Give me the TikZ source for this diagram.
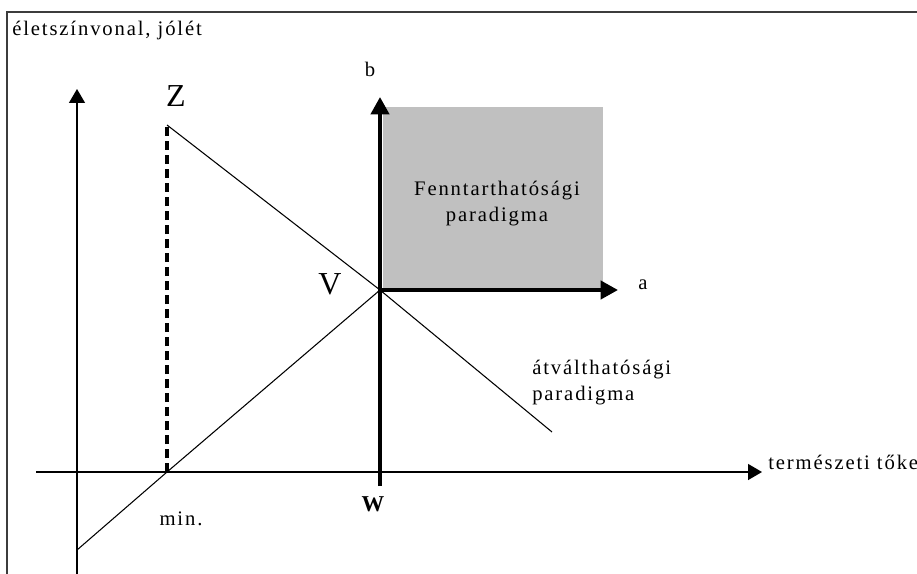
\documentclass[tikz,border=0pt]{standalone}
\usepackage{fontspec}
\setmainfont{Liberation Serif}[LetterSpace=9]
\usetikzlibrary{arrows.meta,positioning}
\definecolor{paradgray}{RGB}{192,192,192}
\definecolor{framegray}{RGB}{60,60,60}

\begin{document}
\begin{tikzpicture}[
    x=0.75pt,y=-0.75pt,
    lbl/.style={inner sep=0pt,font=\fontsize{15.5}{19.5}\selectfont},
    big/.style={inner sep=0pt,font=\fontsize{24}{28}\selectfont},
    axis/.style={line width=1.1pt,-{Triangle[length=10.5pt,width=12pt]}},
    thickax/.style={line width=3pt,-{Triangle[length=13pt,width=13.5pt]}},
    trend/.style={line width=0.8pt}
  ]
  \useasboundingbox (0,0) rectangle (917,574);
  \draw[framegray,line width=1.5pt] (7,574) -- (7,12) -- (917,12);

  \coordinate (ybot) at (77,574);
  \coordinate (ytop) at (77,89);
  \coordinate (xleft) at (36,472);
  \coordinate (xtip) at (762,472);
  \coordinate (minpt) at (167,472);
  \coordinate (zpt) at (167,125);
  \coordinate (vpt) at (380,290);
  \coordinate (zend) at (552,432);
  \coordinate (sstart) at (77,550);
  \coordinate (wbot) at (380,486);
  \coordinate (btip) at (380,97);
  \coordinate (atip) at (618,290);

  % fenntarthatosagi tartomany
  \fill[paradgray] (383,107) rectangle (603,288);
  \node[lbl,align=center] (fennt) at (497,204) {Fenntarthatósági\\paradigma};

  \draw[trend] (sstart) -- (minpt) -- (vpt);
  \draw[trend] (zpt) -- (vpt) -- (zend);
  \draw[line width=3pt,dash pattern=on 7pt off 3.5pt] (minpt) -- (zpt);
  \draw[axis] (ybot) -- (ytop);
  \draw[axis] (xleft) -- (xtip);
  \draw[thickax] (wbot) -- (btip);
  \draw[thickax] (vpt) -- (atip);

  \node[lbl,anchor=west] (ylabel) at (12,31) {életszínvonal, jólét};
  \node[lbl,anchor=west] (xlabel) at (768,462) {természeti tőke};
  \node[big] (zlab) at (176,96) {Z};
  \node[big] (vlab) at (330,284) {V};
  \node[lbl] (blab) at (370,69) {b};
  \node[lbl] (alab) at (643,285) {a};
  \node[lbl] (minlab) at (181,519) {min.};
  \node[inner sep=0pt,font=\fontsize{17}{20}\selectfont\bfseries] (wlab) at (373,504) {W};
  \node[lbl,anchor=north west,align=left] (atv) at (532,360) {átválthatósági\\paradigma};
\end{tikzpicture}
\end{document}
